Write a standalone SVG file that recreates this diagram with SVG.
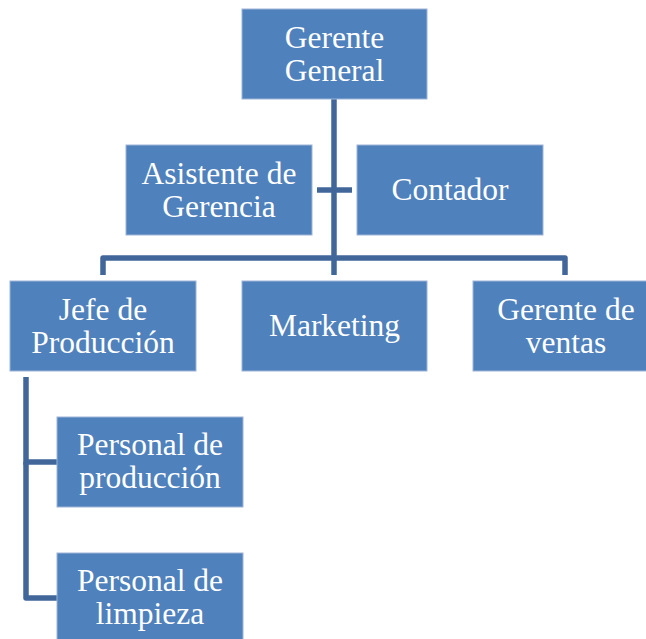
<svg xmlns="http://www.w3.org/2000/svg" width="646" height="639" viewBox="0 0 646 639">
<style>
.box{fill:#4F81BD;stroke:#9DB5D9;stroke-width:1}
.t{font-family:'Liberation Serif','DejaVu Serif',serif;font-size:31.5px;fill:#FFFFFF;text-anchor:middle}
.c{fill:none;stroke:#41679A;stroke-width:5.5}
</style>
<rect width="646" height="639" fill="#FFFFFF"/>
<g id="connectors">
<line class="c" x1="334" y1="99" x2="334" y2="275"/>
<line class="c" x1="317" y1="190" x2="352" y2="190"/>
<polyline class="c" points="103,275 103,258 565,258 565,275" stroke-linejoin="round"/>
<polyline class="c" points="57,462 26,462 26,377" />
<polyline class="c" points="26,462 26,598 57,598" stroke-linejoin="round"/>
</g>
<g id="gerente-general">
<rect class="box" x="242" y="9" width="185" height="90"/>
<text class="t" x="334.5" y="48">Gerente</text>
<text class="t" x="334.5" y="81">General</text>
</g>
<g id="asistente">
<rect class="box" x="126" y="145" width="186" height="90"/>
<text class="t" x="219" y="184">Asistente de</text>
<text class="t" x="219" y="217">Gerencia</text>
</g>
<g id="contador">
<rect class="box" x="357" y="145" width="186" height="90"/>
<text class="t" x="450" y="200">Contador</text>
</g>
<g id="jefe-produccion">
<rect class="box" x="10" y="281" width="186" height="90"/>
<text class="t" x="103" y="320">Jefe de</text>
<text class="t" x="103" y="353">Producción</text>
</g>
<g id="marketing">
<rect class="box" x="242" y="281" width="185" height="90"/>
<text class="t" x="334.5" y="336">Marketing</text>
</g>
<g id="gerente-ventas">
<rect class="box" x="473" y="281" width="186" height="90"/>
<text class="t" x="566" y="320">Gerente de</text>
<text class="t" x="566" y="353">ventas</text>
</g>
<g id="personal-produccion">
<rect class="box" x="57" y="417" width="186" height="90"/>
<text class="t" x="150" y="455">Personal de</text>
<text class="t" x="150" y="488">producción</text>
</g>
<g id="personal-limpieza">
<rect class="box" x="57" y="553" width="186" height="90"/>
<text class="t" x="150" y="591">Personal de</text>
<text class="t" x="150" y="624">limpieza</text>
</g>
</svg>
